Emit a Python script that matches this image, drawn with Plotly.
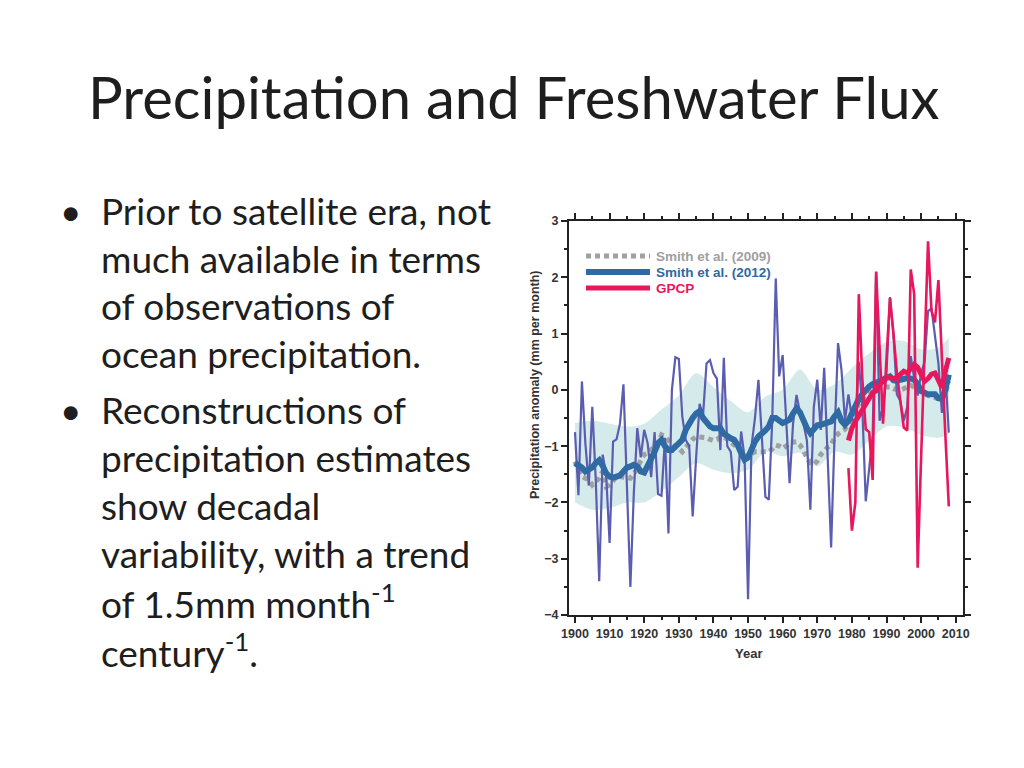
import plotly.graph_objects as go

# ---------------- data ----------------
years = list(range(1900, 2009))

smith2012_annual = [
    -0.75, -1.87, 0.15, -0.95, -1.70, -0.30, -1.60, -3.40, -1.15, -1.50,   # 1900-1909
    -2.72, -0.92, -0.88, -0.60, 0.10, -1.70, -3.50, -1.83, -0.68, -1.20,   # 1910-1919
    -0.71, -0.95, -1.55, -0.75, -1.85, -1.88, -0.85, -2.55, 0.00, 0.58,    # 1920-1929
    0.55, -0.47, -0.89, -1.00, -2.25, -1.20, -0.25, -0.45, 0.47, 0.53,     # 1930-1939
    0.30, 0.20, -1.07, 0.57, -1.00, -1.10, -1.78, -1.72, -0.74, -1.20,     # 1940-1949
    -3.72, -1.00, -0.50, 0.18, -0.90, -1.90, -1.95, -0.53, 1.98, 0.24,     # 1950-1959
    0.62, -0.50, -1.66, -0.60, -0.09, -0.40, -0.60, -0.90, -2.13, -0.30,   # 1960-1969
    0.18, -0.71, 0.39, -1.20, -2.80, -0.80, 0.83, 0.35, -0.55, -0.08,      # 1970-1979
    -0.50, -0.60, 0.50, -0.30, -1.98, -1.40, -0.80, 2.10, -0.55, -0.30,    # 1980-1989
    0.30, 1.65, 1.00, -0.08, -0.20, -0.55, -0.30, 0.60, 0.20, -0.10,       # 1990-1999
    0.30, 0.50, 1.40, 1.45, 1.00, 0.47, -0.41, 0.30, -0.76,                # 2000-2008
]

smith2012_smooth = [
    -1.30, -1.33, -1.38, -1.45, -1.42, -1.38, -1.30, -1.25, -1.35, -1.48,
    -1.54, -1.56, -1.54, -1.52, -1.45, -1.38, -1.36, -1.33, -1.36, -1.45,
    -1.47, -1.36, -1.21, -1.10, -0.95, -0.89, -1.00, -1.07, -1.07, -1.01,
    -0.95, -0.89, -0.71, -0.59, -0.50, -0.42, -0.38, -0.50, -0.59, -0.65,
    -0.68, -0.68, -0.68, -0.78, -0.83, -0.86, -0.89, -0.98, -1.12, -1.24,
    -1.20, -1.05, -0.92, -0.83, -0.79, -0.72, -0.65, -0.50, -0.50, -0.55,
    -0.59, -0.56, -0.53, -0.42, -0.33, -0.40, -0.55, -0.68, -0.77, -0.68,
    -0.63, -0.62, -0.60, -0.58, -0.56, -0.47, -0.40, -0.55, -0.62, -0.55,
    -0.40, -0.25, -0.16, -0.08, 0.00, 0.06, 0.10, 0.12, 0.16, 0.18,
    0.22, 0.24, 0.17, 0.16, 0.18, 0.20, 0.21, 0.20, 0.18, 0.10,
    -0.02, -0.05, -0.08, -0.08, -0.08, -0.15, -0.16, 0.00, 0.27,
]

smith2009 = [
    -1.27, -1.40, -1.54, -1.57, -1.60, -1.69, -1.62, -1.57, -1.45, -1.72,
    -1.69, -1.60, -1.54, -1.54, -1.54, -1.56, -1.57, -1.48, -1.40, -1.25,
    -1.15, -1.12, -1.07, -1.00, -0.95, -0.80, -0.83, -0.90, -0.98, -1.02,
    -1.04, -1.10, -1.02, -0.95, -0.88, -0.83, -0.84, -0.83, -0.85, -0.88,
    -0.90, -0.88, -0.84, -0.83, -0.89, -0.93, -0.98, -1.02, -1.10, -1.18,
    -1.16, -1.12, -1.10, -1.10, -1.10, -1.10, -1.10, -1.05, -0.98, -1.00,
    -1.04, -1.00, -0.95, -0.93, -0.92, -0.98, -1.07, -1.21, -1.30, -1.33,
    -1.26, -1.15, -1.07, -1.02, -0.98, -0.85, -0.78, -0.73, -0.70, -0.62,
    -0.50, -0.35, -0.25, -0.18, -0.10, -0.05, 0.00, 0.02, 0.05, 0.05,
    0.05, 0.05, 0.02, 0.00, 0.00, 0.02, 0.05, 0.08, 0.05, 0.00,
    -0.05, -0.08, -0.10, -0.12, -0.12, -0.15, -0.18, -0.05, 0.15,
]

gpcp_years = list(range(1979, 2009))
gpcp_annual = [
    -1.39, -2.50, -2.00, 1.70, 0.20, -0.70, -0.75, -1.60, 2.10, 0.60,      # 1979-1988
    -0.60, 0.55, 1.63, 1.00, 0.30, -0.20, -0.67, -0.72, 2.14, 1.70,        # 1989-1998
    -3.16, -1.20, 0.70, 2.64, 1.40, 1.20, 1.95, 0.50, -0.80, -2.07,        # 1999-2008
]
gpcp_smooth = [
    -0.90, -0.68, -0.56, -0.45, -0.35, -0.26, -0.15, -0.05, -0.02, 0.10,
    0.15, 0.21, 0.22, 0.20, 0.22, 0.27, 0.33, 0.30, 0.39, 0.45,
    0.40, 0.27, 0.15, 0.20, 0.28, 0.30, 0.18, 0.04, 0.33, 0.57,
]

band_years = [1900, 1905, 1910, 1915, 1920, 1925, 1930, 1935, 1940, 1945, 1950, 1955,
              1960, 1965, 1970, 1975, 1980, 1985, 1990, 1995, 2000, 2005, 2008]
band_upper = [-0.59, -0.55, -0.60, -0.65, -0.60, -0.35, -0.10, 0.30, 0.05, -0.20, -0.40, -0.12,
              0.00, 0.36, 0.00, 0.10, 0.39, 0.65, 0.85, 0.87, 0.72, 0.75, 0.93]
band_lower = [-2.00, -2.13, -2.10, -2.00, -2.00, -1.80, -1.55, -1.30, -1.42, -1.48, -1.42, -1.10,
              -1.18, -1.12, -1.36, -1.10, -1.15, -0.90, -0.65, -0.67, -0.80, -0.85, -0.79]

x_ticks = list(range(1900, 2011, 10))
y_ticks = [-4, -3, -2, -1, 0, 1, 2, 3]

legend_names = ["Smith et al. (2009)", "Smith et al. (2012)", "GPCP"]

title_text = "Precipitation and Freshwater Flux"
bullet1 = ["Prior to satellite era, not", "much available in terms",
           "of observations of", "ocean precipitation."]
bullet2 = ["Reconstructions of", "precipitation estimates", "show decadal",
           "variability, with a trend", "of 1.5mm month<sup>-1</sup>", "century<sup>-1</sup>."]

# ---------------- styles ----------------
GREY = "#a0a0a0"
BLUE_THIN = "#5a5db0"
BLUE_THICK = "#2f6aa5"
PINK = "#e8175d"
BAND = "#d5eaea"
TXT = "#1e1e1e"

W, H = 1024, 768
OFF = 8  # page body margin of the browser
L, R, T, B = 569, 963, 221, 615  # plot area as seen in the reference


def px_x(px):
    return (px - L) / (R - L)


def px_y(py):
    return 1 - (py - T) / (B - T)


fig = go.Figure()

# uncertainty band
fig.add_trace(go.Scatter(x=band_years, y=band_lower, mode="lines",
                         line=dict(width=0, color=BAND, shape="spline", smoothing=0.8),
                         showlegend=False, hoverinfo="skip"))
fig.add_trace(go.Scatter(x=band_years, y=band_upper, mode="lines",
                         line=dict(width=0, color=BAND, shape="spline", smoothing=0.8),
                         fill="tonexty", fillcolor=BAND, showlegend=False, hoverinfo="skip"))

# Smith 2009 dotted
fig.add_trace(go.Scatter(x=years, y=smith2009, mode="lines", name=legend_names[0],
                         line=dict(color=GREY, width=5, dash="5px,4px"), showlegend=False))
# Smith 2012 annual thin
fig.add_trace(go.Scatter(x=years, y=smith2012_annual, mode="lines",
                         line=dict(color=BLUE_THIN, width=2.2), showlegend=False))
# Smith 2012 smoothed thick
fig.add_trace(go.Scatter(x=years, y=smith2012_smooth, mode="lines", name=legend_names[1],
                         line=dict(color=BLUE_THICK, width=6), showlegend=False))
# GPCP annual thin
fig.add_trace(go.Scatter(x=gpcp_years, y=gpcp_annual, mode="lines",
                         line=dict(color=PINK, width=2.6), showlegend=False))
# GPCP smoothed thick
fig.add_trace(go.Scatter(x=gpcp_years, y=gpcp_smooth, mode="lines", name=legend_names[2],
                         line=dict(color=PINK, width=5), showlegend=False))

axis_font = dict(family="Liberation Sans, Arial", size=12.5, color="#333333", weight="bold")

fig.update_xaxes(range=[1898.27, 2012.1], tickvals=x_ticks, ticks="outside", ticklen=6, tickwidth=1.5,
                 tickcolor="#222", showline=True, linecolor="#222", linewidth=2, mirror="ticks",
                 showgrid=False, zeroline=False, tickfont=axis_font,
                 minor=dict(dtick=5, ticks="outside", ticklen=3, tickwidth=1.5, tickcolor="#222", showgrid=False))
fig.update_yaxes(range=[-4, 3], tickvals=y_ticks, ticks="outside", ticklen=6, tickwidth=1.5,
                 tickcolor="#222", showline=True, linecolor="#222", linewidth=2, mirror="ticks",
                 showgrid=False, zeroline=False, tickfont=axis_font,
                 minor=dict(dtick=0.5, ticks="outside", ticklen=3, tickwidth=1.5, tickcolor="#222", showgrid=False))

annotations = []
shapes = []
body_font = dict(family="Lato, Open Sans, sans-serif", size=37, color=TXT)
annotations.append(dict(text=title_text, x=px_x(86), y=px_y(97), xref="paper", yref="paper",
                        xanchor="left", yanchor="middle", showarrow=False,
                        font=dict(family="Lato, Open Sans, sans-serif", size=58, color=TXT)))
line_y1 = [210, 258, 305, 353]
line_y2 = [409, 457, 505, 553, 601, 650]
for txt, yy in zip(bullet1, line_y1):
    annotations.append(dict(text=txt, x=px_x(99), y=px_y(yy), xref="paper", yref="paper",
                            xanchor="left", yanchor="middle", showarrow=False, font=body_font))
for txt, yy in zip(bullet2, line_y2):
    annotations.append(dict(text=txt, x=px_x(99), y=px_y(yy), xref="paper", yref="paper",
                            xanchor="left", yanchor="middle", showarrow=False, font=body_font))
for yy in [line_y1[0], line_y2[0]]:
    annotations.append(dict(text="•", x=px_x(70), y=px_y(yy), xref="paper", yref="paper",
                            xanchor="center", yanchor="middle", showarrow=False, font=body_font))

# axis titles
annotations.append(dict(text="<b>Year</b>", x=px_x(748), y=px_y(653), xref="paper", yref="paper",
                        xanchor="center", yanchor="middle", showarrow=False,
                        font=dict(family="Liberation Sans, Arial", size=13, color="#333333")))
annotations.append(dict(text="<b>Precipitation anomaly (mm per month)</b>", x=px_x(535), y=px_y(385),
                        xref="paper", yref="paper", xanchor="center", yanchor="middle", textangle=-90,
                        showarrow=False, font=dict(family="Liberation Sans, Arial", size=12.5, color="#333333")))

# legend (drawn as key lines + coloured labels, like the original figure)
legend_styles = [dict(color=GREY, width=5, dash="5px,4px"),
                 dict(color=BLUE_THICK, width=6),
                 dict(color=PINK, width=5)]
legend_y = [256, 272, 288]
for name, st, yy in zip(legend_names, legend_styles, legend_y):
    shapes.append(dict(type="line", xref="paper", yref="paper", x0=px_x(586), x1=px_x(650),
                       y0=px_y(yy), y1=px_y(yy), line=st))
    annotations.append(dict(text="<b>%s</b>" % name, x=px_x(654), y=px_y(yy), xref="paper", yref="paper",
                            xanchor="left", yanchor="middle", showarrow=False,
                            font=dict(family="Liberation Sans, Arial", size=13.5, color=st["color"])))

fig.update_layout(
    width=W, height=H,
    margin=dict(l=L - OFF, r=W - R + OFF, t=T - OFF, b=H - B + OFF, autoexpand=False),
    paper_bgcolor="white", plot_bgcolor="white",
    showlegend=False,
    annotations=annotations,
    shapes=shapes,
)

fig.write_html("out.html")
